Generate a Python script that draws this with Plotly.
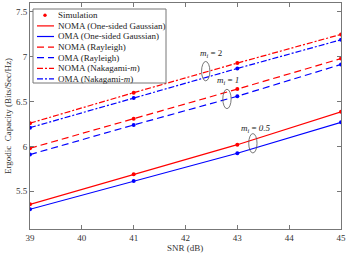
import plotly.graph_objects as go

snr = [39, 41, 43, 45]
noma_gauss = [5.355, 5.69, 6.02, 6.386]
oma_gauss = [5.30, 5.615, 5.925, 6.27]
noma_rayleigh = [5.98, 6.31, 6.64, 6.98]
oma_rayleigh = [5.91, 6.24, 6.56, 6.915]
noma_naka = [6.26, 6.60, 6.93, 7.25]
oma_naka = [6.21, 6.54, 6.87, 7.19]

x_ticks = [39, 40, 41, 42, 43, 44, 45]
y_ticks = [5.5, 6, 6.5, 7, 7.5]

RED = "#ff0000"
BLUE = "#0000ff"
FONT = "Liberation Serif"
DASH = "7px,4px"
DASHDOT = "6px,2px,2px,2px"

W, H = 349, 258
ML, MR, MT, MB = 30, 8, 3, 29
PW, PH = W - ML - MR, H - MT - MB


def px(xp):
    return (xp - ML) / PW


def py(yp):
    return (H - MB - yp) / PH


fig = go.Figure()

series = [
    ("NOMA (One-sided Gaussian)", noma_gauss, RED, "solid"),
    ("OMA (One-sided Gaussian)", oma_gauss, BLUE, "solid"),
    ("NOMA (Rayleigh)", noma_rayleigh, RED, DASH),
    ("OMA (Rayleigh)", oma_rayleigh, BLUE, DASH),
    ("NOMA (Nakagami-<i>m</i>)", noma_naka, RED, DASHDOT),
    ("OMA (Nakagami-<i>m</i>)", oma_naka, BLUE, DASHDOT),
]
for name, ys, c, d in series:
    fig.add_trace(go.Scatter(x=snr, y=ys, mode="lines+markers", name=name,
                             line=dict(color=c, width=1.2, dash=d),
                             marker=dict(color=c, size=4), showlegend=False))

# ellipses and labels
ellipses = [(42.39, 6.84), (42.80, 6.53), (43.30, 6.036)]
for cx, cy in ellipses:
    fig.add_shape(type="circle", xref="x", yref="y",
                  x0=cx - 0.08, x1=cx + 0.08, y0=cy - 0.108, y1=cy + 0.108,
                  line=dict(color="#555555", width=0.8))
labels = [(42.49, 7.04, "<i>m</i><sub><i>i</i></sub> = 2"),
          (42.82, 6.74, "<i>m</i><sub><i>i</i></sub> = <i>1</i>"),
          (43.36, 6.20, "<i>m</i><sub><i>i</i></sub> = <i>0.5</i>")]
for lx, ly, t in labels:
    fig.add_annotation(x=lx, y=ly, text=t, showarrow=False,
                       font=dict(family=FONT, size=9, color="#222222"))

# custom legend
fig.add_shape(type="rect", xref="paper", yref="paper",
              x0=px(33), x1=px(166), y0=py(83), y1=py(9),
              line=dict(color="#777777", width=1), fillcolor="white", layer="above")
legend_rows = [("Simulation", RED, None)] + [(n, c, d) for n, _, c, d in series]
for i, (name, c, d) in enumerate(legend_rows):
    yrow = 15.3 + 10.6 * i
    if d is None:
        fig.add_shape(type="circle", xref="paper", yref="paper",
                      x0=px(43.3), x1=px(46.7), y0=py(yrow + 1.7), y1=py(yrow - 1.7),
                      line=dict(color=c, width=0), fillcolor=c, layer="above")
    else:
        fig.add_shape(type="line", xref="paper", yref="paper",
                      x0=px(37), x1=px(54), y0=py(yrow), y1=py(yrow),
                      line=dict(color=c, width=1.2, dash=d), layer="above")
    fig.add_annotation(xref="paper", yref="paper", x=px(56), y=py(yrow),
                       xanchor="left", yanchor="middle", text=name, showarrow=False,
                       font=dict(family=FONT, size=9, color="#222222"))

# axis titles
fig.add_annotation(xref="paper", yref="paper", x=px(185), y=py(248), text="SNR (dB)",
                   showarrow=False, xanchor="center", yanchor="middle",
                   font=dict(family=FONT, size=9, color="#333333"))
fig.add_annotation(xref="paper", yref="paper", x=px(8), y=py(116),
                   text="Ergodic  Capacity (Bits/Sec/Hz)", textangle=-90,
                   showarrow=False, xanchor="center", yanchor="middle",
                   font=dict(family=FONT, size=9, color="#333333"))

axis_common = dict(showline=True, linecolor="#777777", linewidth=1, mirror="ticks",
                   ticks="inside", ticklen=4, tickcolor="#777777", showgrid=False,
                   zeroline=False, automargin=False, ticklabeloverflow="allow",
                   tickfont=dict(family=FONT, size=9, color="#333333"))

fig.update_layout(
    width=W, height=H,
    margin=dict(l=ML, r=MR, t=MT, b=MB, autoexpand=False),
    plot_bgcolor="white", paper_bgcolor="white",
    font=dict(family=FONT, size=9, color="#333333"),
    xaxis=dict(range=[39, 45], tickvals=x_ticks, **axis_common),
    yaxis=dict(range=[5.08, 7.6], tickvals=y_ticks, ticktext=["5.5", "6", "6.5", "7", "7.5"],
               **axis_common),
    showlegend=False,
)

fig.write_html("out.html", config={"displayModeBar": False},
               post_script="document.body.style.margin='0';document.body.style.overflow='hidden';")
